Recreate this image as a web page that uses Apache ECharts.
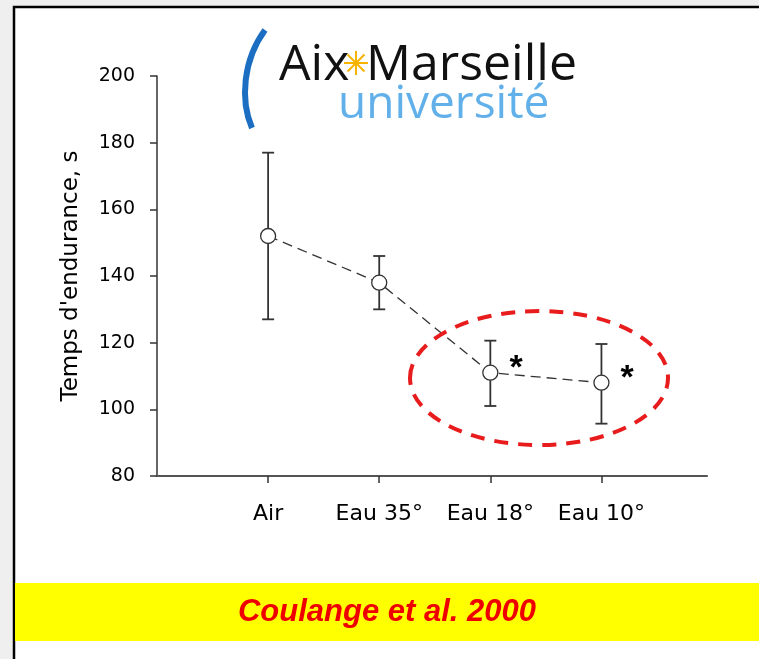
<!DOCTYPE html>
<html><head><meta charset="utf-8">
<script src="https://cdn.jsdelivr.net/npm/echarts@6/dist/echarts.min.js"></script>
<style>html,body{margin:0;padding:0;background:#efefef;}#c{width:759px;height:659px;}</style>
</head><body><div id="c"></div>
<script>
const categories = ['Air', 'Eau 35°', 'Eau 18°', 'Eau 10°'];
const positions = [1, 2, 3, 4];
const means = [152, 138, 111, 108];
const upper = [177, 146, 120.6, 119.6];
const lower = [127, 130, 101, 95.7];
const yTicks = [80, 100, 120, 140, 160, 180, 200];
const significant = [false, false, true, true];

const chart = echarts.init(document.getElementById('c'), null, {renderer: 'canvas'});
const lineData = positions.map((p, i) => [p, means[i]]);
const errData = positions.map((p, i) => [p, lower[i], upper[i]]);
const FONT = '"DejaVu Sans", Arial, sans-serif';
const starC = [356, 63], starR = 12;
const starLines = [0, 45, 90, 135].map(a => {
  const r = a * Math.PI / 180;
  return {type: 'line', z: -8, shape: {x1: starC[0] - starR * Math.cos(r), y1: starC[1] - starR * Math.sin(r),
    x2: starC[0] + starR * Math.cos(r), y2: starC[1] + starR * Math.sin(r)},
    style: {stroke: '#f5b400', lineWidth: 2}};
});

const option = {
  backgroundColor: '#efefef',
  animation: false,
  grid: {left: 157, top: 76, width: 550, height: 400},
  xAxis: {
    type: 'value', min: 0, max: 4.95,
    axisLine: {lineStyle: {color: '#555', width: 2.2}},
    axisTick: {show: true, length: 7, lineStyle: {color: '#333', width: 1.5}, customValues: positions},
    axisLabel: {customValues: positions, formatter: v => categories[positions.indexOf(v)] || '',
      color: '#000', fontFamily: FONT, fontSize: 22, margin: 27},
    splitLine: {show: false}
  },
  yAxis: {
    type: 'value', min: 80, max: 200, interval: 20,
    name: "Temps d'endurance, s", nameLocation: 'middle', nameRotate: 90, nameGap: 74,
    nameTextStyle: {color: '#000', fontFamily: FONT, fontSize: 23},
    axisLine: {show: true, lineStyle: {color: '#333', width: 1.5}},
    axisTick: {show: true, length: 7, lineStyle: {color: '#333', width: 1.5}},
    axisLabel: {color: '#000', fontFamily: FONT, fontSize: 19, margin: 22,
      formatter: v => yTicks.indexOf(v) >= 0 ? String(v) : ''},
    splitLine: {show: false}
  },
  series: [
    {
      type: 'custom', z: 3,
      data: errData,
      renderItem: function (params, api) {
        const x = api.value(0);
        const lo = api.coord([x, api.value(1)]);
        const hi = api.coord([x, api.value(2)]);
        const w = 6;
        const st = {stroke: '#333', lineWidth: 1.8};
        return {type: 'group', children: [
          {type: 'line', shape: {x1: lo[0], y1: lo[1], x2: hi[0], y2: hi[1]}, style: st},
          {type: 'line', shape: {x1: lo[0] - w, y1: lo[1], x2: lo[0] + w, y2: lo[1]}, style: st},
          {type: 'line', shape: {x1: hi[0] - w, y1: hi[1], x2: hi[0] + w, y2: hi[1]}, style: st}
        ]};
      }
    },
    {
      type: 'line', z: 4,
      data: lineData,
      symbol: 'circle', symbolSize: 15,
      lineStyle: {color: '#333', width: 1.3, type: [10, 6]},
      itemStyle: {color: '#fff', borderColor: '#333', borderWidth: 1.3},
      label: {show: true, position: 'right', distance: 11,
        formatter: p => significant[p.dataIndex] ? '*' : '',
        color: '#000', fontWeight: 'bold', fontSize: 34, fontFamily: 'Arial, "Liberation Sans"', offset: [0, -4]}
    }
  ],
  graphic: [
    {type: 'rect', z: -10, shape: {x: 14, y: 7, width: 760, height: 660},
      style: {fill: '#fff', stroke: '#000', lineWidth: 2.5}},
    {type: 'bezierCurve', z: -8, shape: {x1: 265, y1: 30, cpx1: 243, cpy1: 60, cpx2: 240, cpy2: 100, x2: 252, y2: 128},
      style: {stroke: '#1b6ec2', lineWidth: 6, fill: null}},
    {type: 'text', z: -8, x: 279, y: 91,
      style: {text: 'Aix', fontFamily: '"Open Sans", sans-serif', fontSize: 50, fill: '#111', verticalAlign: 'bottom'}},
    ...starLines,
    {type: 'text', z: -8, x: 366, y: 91,
      style: {text: 'Marseille', fontFamily: '"Open Sans", sans-serif', fontSize: 50, fill: '#111', verticalAlign: 'bottom'}},
    {type: 'text', z: -8, x: 338, y: 128,
      style: {text: 'université', fontFamily: '"Open Sans", sans-serif', fontSize: 46, fill: '#62b0ea', verticalAlign: 'bottom'}},
    {type: 'ellipse', z: 10, shape: {cx: 539, cy: 378, rx: 129, ry: 67},
      style: {fill: null, stroke: '#e81c1c', lineWidth: 4, lineDash: [14, 10]}},
    {type: 'rect', z: -5, shape: {x: 15, y: 583, width: 744, height: 58}, style: {fill: '#ffff00'}},
    {type: 'text', z: -4, x: 387, y: 612,
      style: {text: 'Coulange et al. 2000', fontFamily: 'Arial, "Liberation Sans"', fontSize: 31,
        fontWeight: 'bold', fontStyle: 'italic', fill: '#ee0000', align: 'center', verticalAlign: 'middle'}}
  ]
};
chart.setOption(option);
</script></body></html>
